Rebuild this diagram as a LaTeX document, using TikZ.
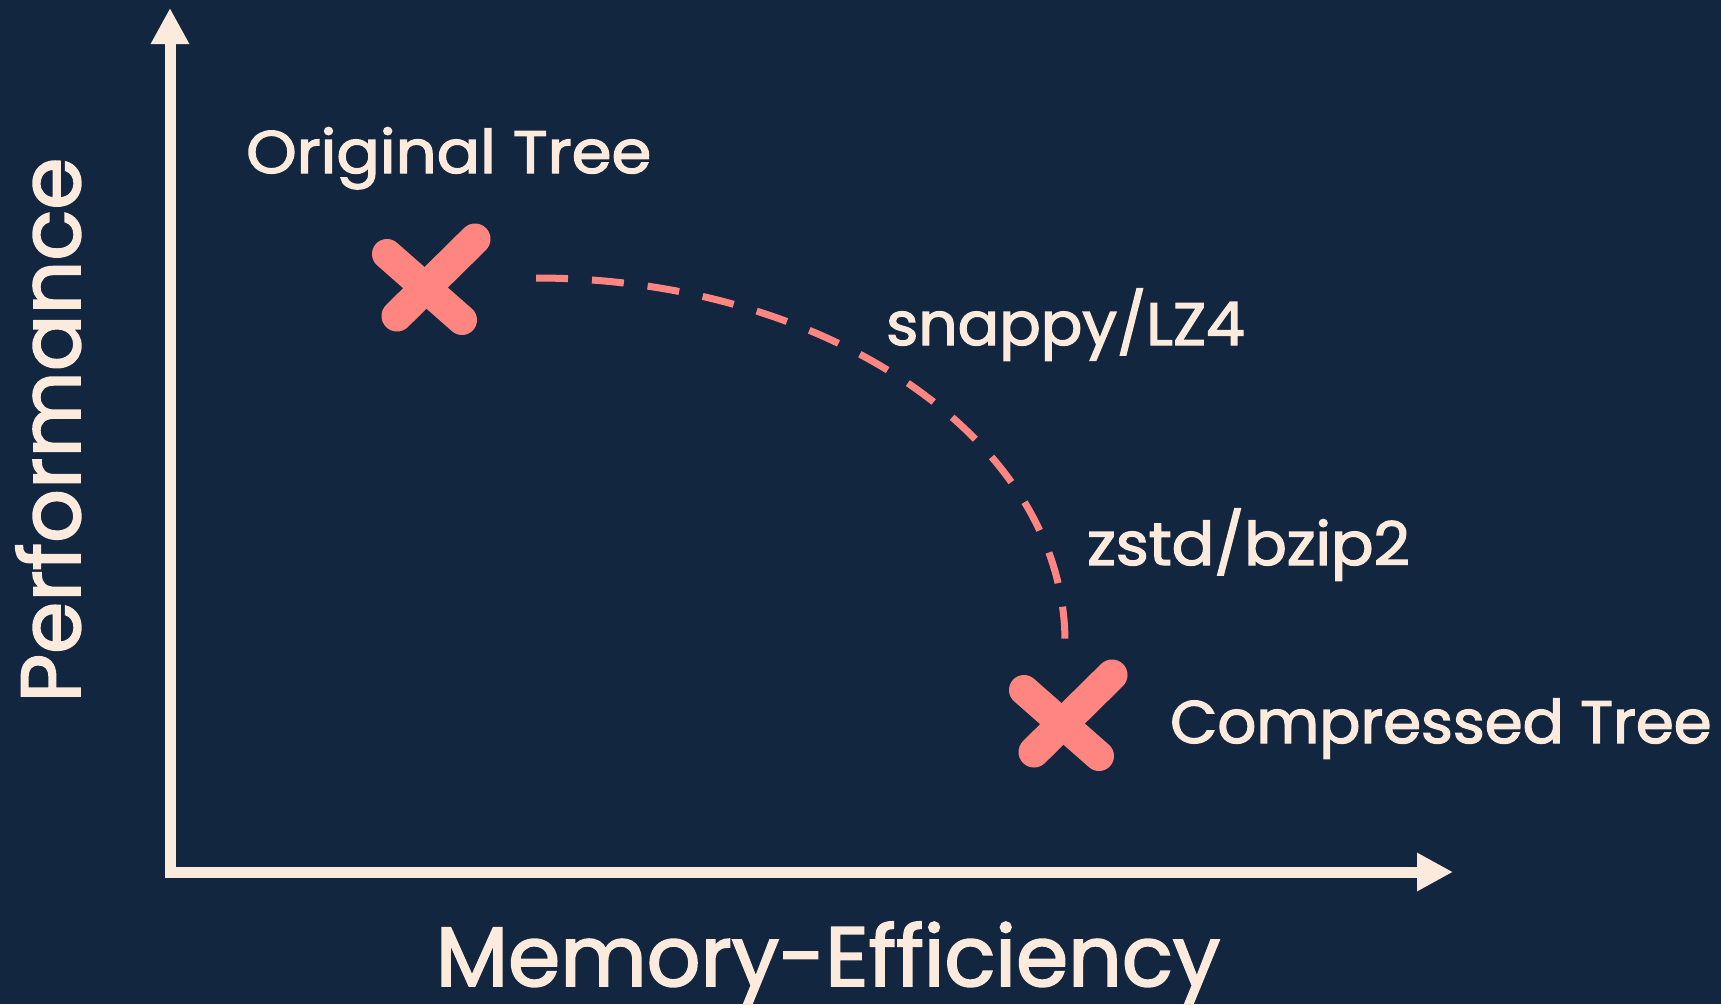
\documentclass[tikz,border=0pt]{standalone}
\usepackage{fontspec}
\setmainfont{Poppins}[FakeBold=2.2]
\usetikzlibrary{arrows.meta}
\definecolor{bgnavy}{HTML}{12263F}
\definecolor{cream}{HTML}{FCEBDC}
\definecolor{salmon}{HTML}{FF8580}
\newcommand{\widen}[2]{\scalebox{#1}[1]{#2}}
\begin{document}
\begin{tikzpicture}[x=1pt,y=-1pt,
  axis/.style={draw=cream, line width=11pt, line join=miter,
    {Triangle[length=36pt,width=36pt]}-{Triangle[length=36pt,width=36pt]}},
  tradeoff/.style={draw=salmon, line width=7pt, dash pattern=on 32pt off 24pt},
  label/.style={text=cream, inner sep=0pt, font=\fontsize{60}{70}\selectfont},
  axislabel/.style={text=cream, inner sep=0pt, font=\fontsize{84}{98}\selectfont},
  cross/.pic={
    \draw[salmon, line width=30pt, line cap=round] (-43,-31) -- (32,35);
    \draw[salmon, line width=31pt, line cap=round] (45,-46) -- (-33,31);
  }]
  % canvas
  \fill[bgnavy] (0,0) rectangle (1721,1004);
  \useasboundingbox (0,0) rectangle (1721,1004);

  % axes
  \coordinate (ytip) at (170,8);
  \coordinate (origin) at (170,872);
  \coordinate (xtip) at (1453,872);
  \draw[axis] (ytip) -- (origin) -- (xtip);

  \node[axislabel, anchor=base, rotate=90] (perf) at (80,430) {Performance};
  \node[axislabel, anchor=base] (mem) at (828,986) {Memory-Efficiency};

  % the two trees
  \pic (orig) at (430,285) {cross};
  \pic (comp) at (1067,721) {cross};
  \node[label, anchor=base west] (origlbl) at (246,173) {\widen{1.07}{Original Tree}};
  \node[label, anchor=base west] (complbl) at (1170,743) {\widen{1.017}{Compressed Tree}};

  % trade-off curve between them
  \coordinate (curvestart) at (536,278);
  \coordinate (curveend) at (1065,642);
  \draw[tradeoff] (curvestart) .. controls (828,278) and (1065,441) .. (curveend);

  \node[label, anchor=base west] (snappy) at (886,345) {\widen{1.025}{snappy/LZ4}};
  \node[label, anchor=base west] (zstd) at (1087,565) {\widen{1.05}{zstd/bzip2}};
\end{tikzpicture}
\end{document}
